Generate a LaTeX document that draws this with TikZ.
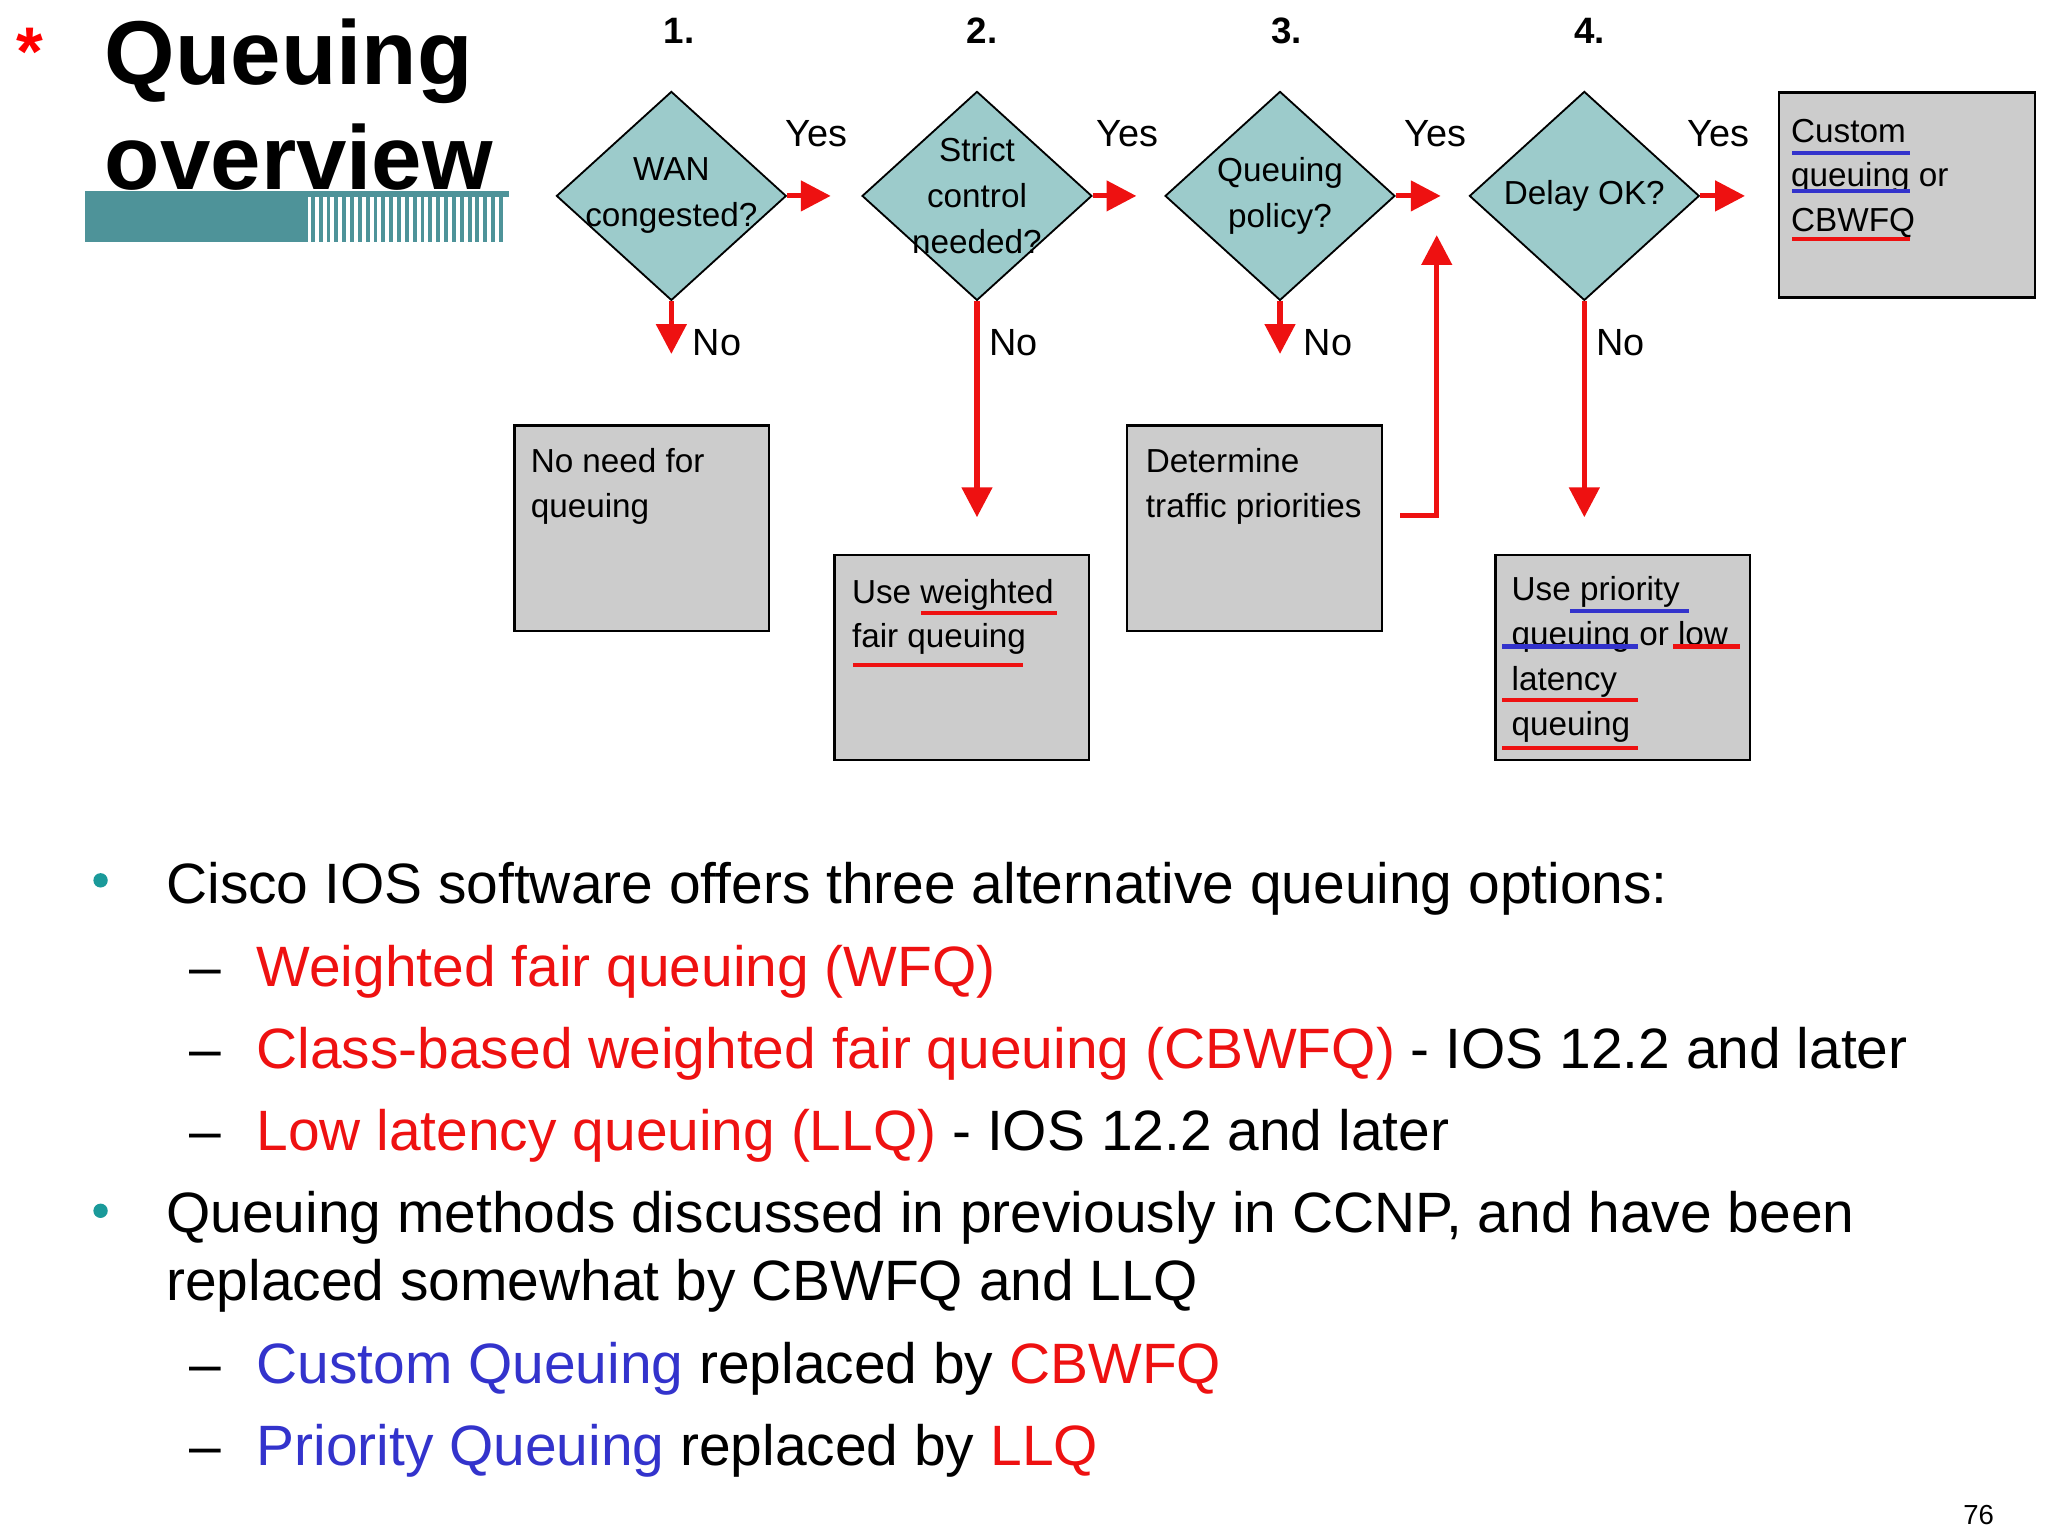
\documentclass[tikz,border=0pt]{standalone}
\usepackage{fontspec}
\setmainfont{Liberation Sans}
\usetikzlibrary{shapes.geometric,arrows.meta}
\definecolor{teal1}{HTML}{9CCBCB}
\definecolor{tealbar}{HTML}{4E9399}
\definecolor{boxgray}{HTML}{CCCCCC}
\definecolor{ured}{HTML}{EE1111}
\definecolor{ublue}{HTML}{3333CC}
\definecolor{dotteal}{HTML}{1A9A9A}
\tikzset{
 dia/.style={diamond,draw=black,fill=teal1,line width=0.8pt,minimum width=176*0.02cm,minimum height=160*0.02cm,inner sep=0pt},
 dtxt/.style={align=center,inner sep=0pt,font=\fontsize{14.5}{20}\selectfont},
 gbox/.style={draw=black,fill=boxgray,line width=1pt},
 btxt/.style={anchor=base west,inner sep=0pt,font=\fontsize{14.5}{16}\selectfont},
 lbl/.style={anchor=base west,inner sep=0pt,font=\fontsize{16.5}{18}\selectfont},
 num/.style={anchor=base,inner sep=0pt,font=\fontsize{16}{18}\selectfont\bfseries},
 rarr/.style={draw=ured,line width=2.2pt,-{Triangle[width=13pt,length=13pt]}},
 uline/.style={line width=1.8pt},
 body/.style={anchor=base west,inner sep=0pt,font=\fontsize{24.8}{30}\selectfont},
}
\begin{document}
\begin{tikzpicture}[x=0.02cm,y=-0.02cm]
\useasboundingbox (0,0) rectangle (1568,1176);
% title
\node[anchor=base west,inner sep=0pt,text=red,font=\fontsize{30}{30}\selectfont\bfseries] (star) at (12,58) {*};
\node[anchor=base west,inner sep=0pt,font=\fontsize{39.5}{45}\selectfont\bfseries] (t1) at (80,65) {Queuing};
\fill[tealbar] (65,147) rectangle (236,185);
\foreach \i in {0,...,24} {\fill[tealbar] ({238+\i*6},149) rectangle ({241+\i*6},185);}
\fill[tealbar] (65,146) rectangle (390,151);
\node[anchor=base west,inner sep=0pt,font=\fontsize{39.5}{45}\selectfont\bfseries] (t2) at (80,145) {overview};
% numbers
\node[num] (n1) at (520,33) {1.};
\node[num] (n2) at (752,33) {2.};
\node[num] (n3) at (985,33) {3.};
\node[num] (n4) at (1217,33) {4.};
% diamonds
\node[dia] (d1) at (514,150) {};
\node[dia] (d2) at (748,150) {};
\node[dia] (d3) at (980,150) {};
\node[dia] (d4) at (1213,150) {};
\node[dtxt] (d1t) at (d1) {WAN\\congested?};
\node[dtxt] (d2t) at (d2) {Strict\\control\\needed?};
\node[dtxt] (d3t) at (d3) {Queuing\\policy?};
\node[dtxt] (d4t) at (d4) {Delay OK?};
% boxes
\node[gbox,minimum width=195*0.02cm,minimum height=157*0.02cm,anchor=north west] (b1) at (393,325) {};
\node[gbox,minimum width=195*0.02cm,minimum height=157*0.02cm,anchor=north west] (b2) at (638,424) {};
\node[gbox,minimum width=195*0.02cm,minimum height=157*0.02cm,anchor=north west] (b3) at (862,325) {};
\node[gbox,minimum width=195*0.02cm,minimum height=157*0.02cm,anchor=north west] (b4) at (1144,424) {};
\node[gbox,minimum width=196*0.02cm,minimum height=157*0.02cm,anchor=north west] (b5) at (1361,70) {};
% box texts
\node[btxt] at (406,362) {No need for};
\node[btxt] at (406,396) {queuing};
\node[btxt] at (652,462) {Use weighted};
\node[btxt] at (652,496) {fair queuing};
\node[btxt] at (877,362) {Determine};
\node[btxt] at (877,396) {traffic priorities};
\node[btxt] at (1157,460) {Use priority};
\node[btxt] at (1157,494) {queuing or low};
\node[btxt] at (1157,529) {latency};
\node[btxt] at (1157,563) {queuing};
\node[btxt] at (1371,109) {Custom};
\node[btxt] at (1371,143) {queuing or};
\node[btxt] at (1371,177) {CBWFQ};
% underlines
\draw[uline,ured] (705,469) -- (809,469);
\draw[uline,ured] (653,509) -- (783,509);
\draw[uline,ublue] (1202,468) -- (1293,468);
\draw[uline,ublue] (1150,495) -- (1254,495);
\draw[uline,ured] (1281,495) -- (1332,495);
\draw[uline,ured] (1150,536) -- (1254,536);
\draw[uline,ured] (1150,573) -- (1254,573);
\draw[uline,ublue] (1372,117) -- (1462,117);
\draw[uline,ublue] (1372,146) -- (1462,146);
\draw[uline,ured] (1372,183) -- (1462,183);
% yes arrows
\coordinate (y1) at (636,150);
\coordinate (y2) at (870,150);
\coordinate (y3) at (1103,150);
\coordinate (y4) at (1336,150);
\draw[rarr] (d1.east) -- (y1);
\draw[rarr] (d2.east) -- (y2);
\draw[rarr] (d3.east) -- (y3);
\draw[rarr] (d4.east) -- (y4);
\node[lbl] at (601,112) {Yes};
\node[lbl] at (839,112) {Yes};
\node[lbl] at (1075,112) {Yes};
\node[lbl] at (1292,112) {Yes};
% no arrows
\coordinate (no1) at (514,271);
\coordinate (no2) at (748,396);
\coordinate (no3) at (980,271);
\coordinate (no4) at (1213,396);
\draw[rarr] (d1.south) -- (no1);
\draw[rarr] (d2.south) -- (no2);
\draw[rarr] (d3.south) -- (no3);
\draw[rarr] (d4.south) -- (no4);
\node[lbl] at (530,272) {No};
\node[lbl] at (757,272) {No};
\node[lbl] at (998,272) {No};
\node[lbl] at (1222,272) {No};
% loop back
\coordinate (lb0) at (1072,395);
\coordinate (lb1) at (1100,395);
\coordinate (lb2) at (1100,180);
\draw[rarr] (lb0) -- (lb1) -- (lb2);
% bullets
\fill[dotteal] (77,674) circle (5.5);
\fill[dotteal] (77,927) circle (5.5);
\node[body] at (127,692) {Cisco IOS software offers three alternative queuing options:};
\foreach \yy in {755,818,881,1059,1122} {\node[body] at (145,\yy) {–};}
\node[body,text=ured] at (196,755) {Weighted fair queuing (WFQ)};
\node[body] at (196,818) {\textcolor{ured}{Class-based weighted fair queuing (CBWFQ)} - IOS 12.2 and later};
\node[body] at (196,881) {\textcolor{ured}{Low latency queuing (LLQ)} - IOS 12.2 and later};
\node[body] at (127,944) {Queuing methods discussed in previously in CCNP, and have been};
\node[body] at (127,996) {replaced somewhat by CBWFQ and LLQ};
\node[body] at (196,1059) {\textcolor{ublue}{Custom Queuing} replaced by \textcolor{ured}{CBWFQ}};
\node[body] at (196,1122) {\textcolor{ublue}{Priority Queuing} replaced by \textcolor{ured}{LLQ}};
\node[anchor=base east,inner sep=0pt,font=\fontsize{12}{14}\selectfont] at (1527,1167) {76};
\end{tikzpicture}
\end{document}
